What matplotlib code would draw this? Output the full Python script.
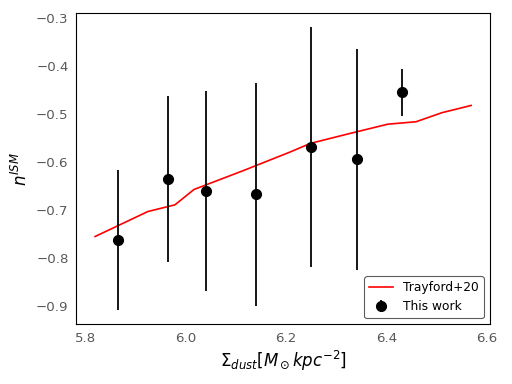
import numpy as np
import matplotlib
matplotlib.use("Agg")
import matplotlib.pyplot as plt

# Trayford+20 relation
trayford_x = [5.820, 5.925, 5.979, 6.017, 6.117, 6.206, 6.249, 6.325, 6.403, 6.459, 6.511, 6.569]
trayford_y = [-0.755, -0.703, -0.689, -0.657, -0.617, -0.580, -0.561, -0.541, -0.521, -0.516, -0.497, -0.482]

# this work
sigma_dust = [5.865, 5.966, 6.041, 6.141, 6.250, 6.342, 6.431]
n_ism = [-0.762, -0.636, -0.660, -0.667, -0.569, -0.594, -0.455]
n_ism_err = [0.146, 0.173, 0.208, 0.232, 0.250, 0.230, 0.048]

fig, ax = plt.subplots(figsize=(6.4, 4.8), dpi=80)
fig.subplots_adjust(left=0.149, right=0.957, top=0.966, bottom=0.156)

ax.plot(trayford_x, trayford_y, color='red', lw=1.5, label='Trayford+20')
ax.errorbar(sigma_dust, n_ism, yerr=n_ism_err, fmt='o', color='black',
            ms=9, elinewidth=1.6, capsize=0, label='This work')

ax.set_xticks([5.8, 6.0, 6.2, 6.4, 6.6])
ax.set_yticks([-0.9, -0.8, -0.7, -0.6, -0.5, -0.4, -0.3])
ax.tick_params(length=0, labelsize=12, labelcolor='0.35', pad=7)
for s in ax.spines.values():
    s.set_color('black')
    s.set_linewidth(1.0)

ax.set_xlabel(r'$\Sigma_{dust} [M_\odot kpc^{-2}]$', fontsize=15)
ax.set_ylabel(r'$n^{ISM}$', fontsize=15)

leg = ax.legend(loc='lower right', fontsize=11, frameon=True, edgecolor='0.2')
leg.get_frame().set_linewidth(1.0)

fig.savefig('out.png', dpi=80)
